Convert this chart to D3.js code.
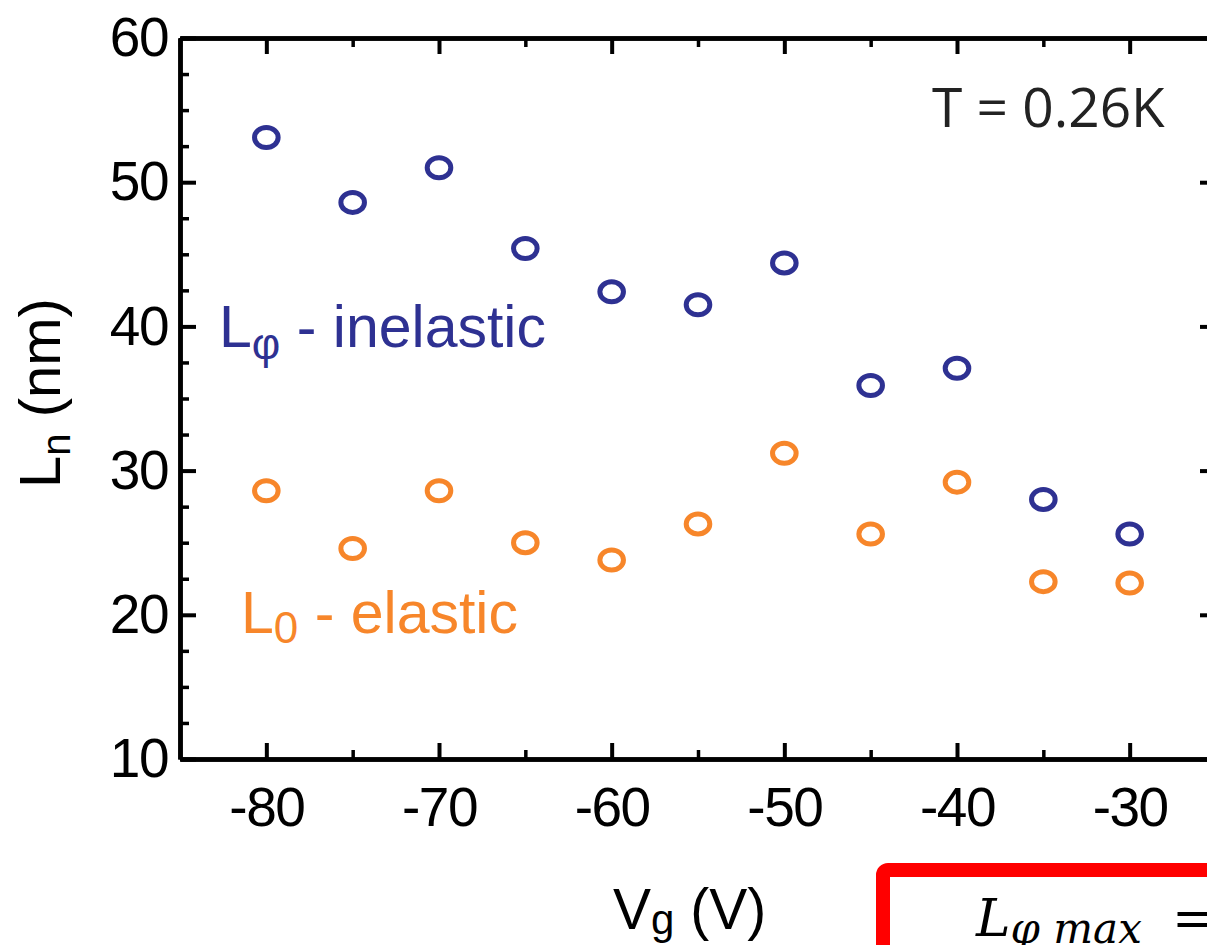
<!DOCTYPE html>
<html>
<head>
<meta charset="utf-8">
<script src="https://cdn.jsdelivr.net/npm/d3@7"></script>
<style>
  body { margin: 0; background: #fff; }
  svg { display: block; font-family: "Liberation Sans", Arial, sans-serif; }
  .axis path { stroke: #000; stroke-width: 4.5; }
  .axis line { stroke: #000; stroke-width: 4; }
  .axis.minor line { stroke-width: 3.5; }
  .axis text { font-size: 55px; fill: #000; letter-spacing: -1.5px; }
</style>
</head>
<body>
<svg id="chart"></svg>
<script>
// data
let gateV = [-80, -75, -70, -65, -60, -55, -50, -45, -40, -35, -30]
let inelastic = [53.1, 48.6, 51.0, 45.4, 42.4, 41.5, 44.4, 35.9, 37.1, 28.0, 25.6]
let elastic = [28.6, 24.6, 28.6, 25.0, 23.8, 26.3, 31.2, 25.6, 29.2, 22.3, 22.2]

// tick values
let xMajor = [-80, -70, -60, -50, -40, -30]
let xMinor = [-85, -75, -65, -55, -45, -35, -25]
let yMajor = [10, 20, 30, 40, 50, 60]
let yMinor = [12.5, 15, 17.5, 22.5, 25, 27.5, 32.5, 35, 37.5, 42.5, 45, 47.5, 52.5, 55, 57.5]

let width = 1207
let height = 945

let plot = { left: 180, top: 38, right: 1216, bottom: 759 }

let blue = "#2e3192"
let orange = "#f7862a"

let svg = d3.select("#chart")
	.attr("width", width)
	.attr("height", height)

let xScale = d3.scaleLinear()
	.domain([-85, -25])
	.range([plot.left, plot.right])

let yScale = d3.scaleLinear()
	.domain([10, 60])
	.range([plot.bottom, plot.top])

// plain hyphen minus like the original
let fmt = d => String(d)

//Axes - all ticks point inwards
let major = 16, minor = 9

svg.append("g").attr("class", "axis")
	.attr("transform", `translate(0,${plot.bottom})`)
	.call(d3.axisBottom(xScale).tickValues(xMajor).tickSize(-major).tickSizeOuter(0).tickPadding(28).tickFormat(fmt))
svg.append("g").attr("class", "axis minor")
	.attr("transform", `translate(0,${plot.bottom})`)
	.call(d3.axisBottom(xScale).tickValues(xMinor).tickSize(-minor).tickSizeOuter(0).tickFormat(""))

svg.append("g").attr("class", "axis")
	.attr("transform", `translate(0,${plot.top})`)
	.call(d3.axisTop(xScale).tickValues(xMajor).tickSize(-major).tickSizeOuter(0).tickFormat(""))
svg.append("g").attr("class", "axis minor")
	.attr("transform", `translate(0,${plot.top})`)
	.call(d3.axisTop(xScale).tickValues(xMinor).tickSize(-minor).tickSizeOuter(0).tickFormat(""))

svg.append("g").attr("class", "axis")
	.attr("transform", `translate(${plot.left},0)`)
	.call(d3.axisLeft(yScale).tickValues(yMajor).tickSize(-major).tickSizeOuter(0).tickPadding(12).tickFormat(fmt))
svg.append("g").attr("class", "axis minor")
	.attr("transform", `translate(${plot.left},0)`)
	.call(d3.axisLeft(yScale).tickValues(yMinor).tickSize(-minor).tickSizeOuter(0).tickFormat(""))

svg.append("g").attr("class", "axis")
	.attr("transform", `translate(${plot.right},0)`)
	.call(d3.axisRight(yScale).tickValues(yMajor).tickSize(-major).tickSizeOuter(0).tickFormat(""))
svg.append("g").attr("class", "axis minor")
	.attr("transform", `translate(${plot.right},0)`)
	.call(d3.axisRight(yScale).tickValues(yMinor).tickSize(-minor).tickSizeOuter(0).tickFormat(""))

//Data points (open ellipses)
function drawSeries(values, color) {
	svg.append("g")
		.selectAll("ellipse")
		.data(values)
		.enter()
		.append("ellipse")
			.attr("cx", (d, i) => xScale(gateV[i]))
			.attr("cy", d => yScale(d))
			.attr("rx", 11.8)
			.attr("ry", 10)
			.attr("fill", "none")
			.attr("stroke", color)
			.attr("stroke-width", 5)
}
drawSeries(inelastic, blue)
drawSeries(elastic, orange)

//Axis titles
let xTitle = svg.append("text")
	.attr("x", 613)
	.attr("y", 929)
	.style("font-size", "57px")
xTitle.append("tspan").text("V")
xTitle.append("tspan").attr("dy", 5).style("font-size", "42px").text("g")
xTitle.append("tspan").attr("dy", -5).text(" (V)")

let yTitle = svg.append("text")
	.attr("transform", "rotate(-90)")
	.attr("x", -488)
	.attr("y", 60)
	.style("font-size", "58px")
yTitle.append("tspan").text("L")
yTitle.append("tspan").attr("dy", 10).style("font-size", "40px").text("n")
yTitle.append("tspan").attr("dy", -10).text(" (nm)")

//Series labels
let lab1 = svg.append("text")
	.attr("x", 219)
	.attr("y", 347)
	.attr("fill", blue)
	.style("font-size", "59px")
lab1.append("tspan").text("L")
lab1.append("tspan").attr("dy", 12).style("font-size", "44px").text("φ")
lab1.append("tspan").attr("dy", -12).text(" - inelastic")

let lab2 = svg.append("text")
	.attr("x", 241)
	.attr("y", 633)
	.attr("fill", orange)
	.style("font-size", "59px")
lab2.append("tspan").text("L")
lab2.append("tspan").attr("dy", 10).style("font-size", "44px").text("0")
lab2.append("tspan").attr("dy", -10).text(" - elastic")

svg.append("text")
	.attr("x", 932)
	.attr("y", 127)
	.style("font-family", "'Open Sans', sans-serif")
	.style("font-size", "55px")
	.attr("fill", "#222")
	.text("T = 0.26K")

//Red box with formula (cut by the frame)
svg.append("rect")
	.attr("x", 883)
	.attr("y", 870)
	.attr("width", 400)
	.attr("height", 200)
	.attr("rx", 5)
	.attr("fill", "#fff")
	.attr("stroke", "#ff0000")
	.attr("stroke-width", 14)

let formula = svg.append("text")
	.attr("x", 976)
	.attr("y", 936)
	.style("font-family", "'DejaVu Serif', 'Liberation Serif', serif")
	.style("font-style", "italic")
	.style("font-size", "52px")
formula.append("tspan").text("L")
formula.append("tspan").attr("dy", 7).style("font-size", "42px").text("φ max")
formula.append("tspan").attr("x", 1172).attr("dy", -7).style("font-style", "normal").text("=")
</script>
</body>
</html>
